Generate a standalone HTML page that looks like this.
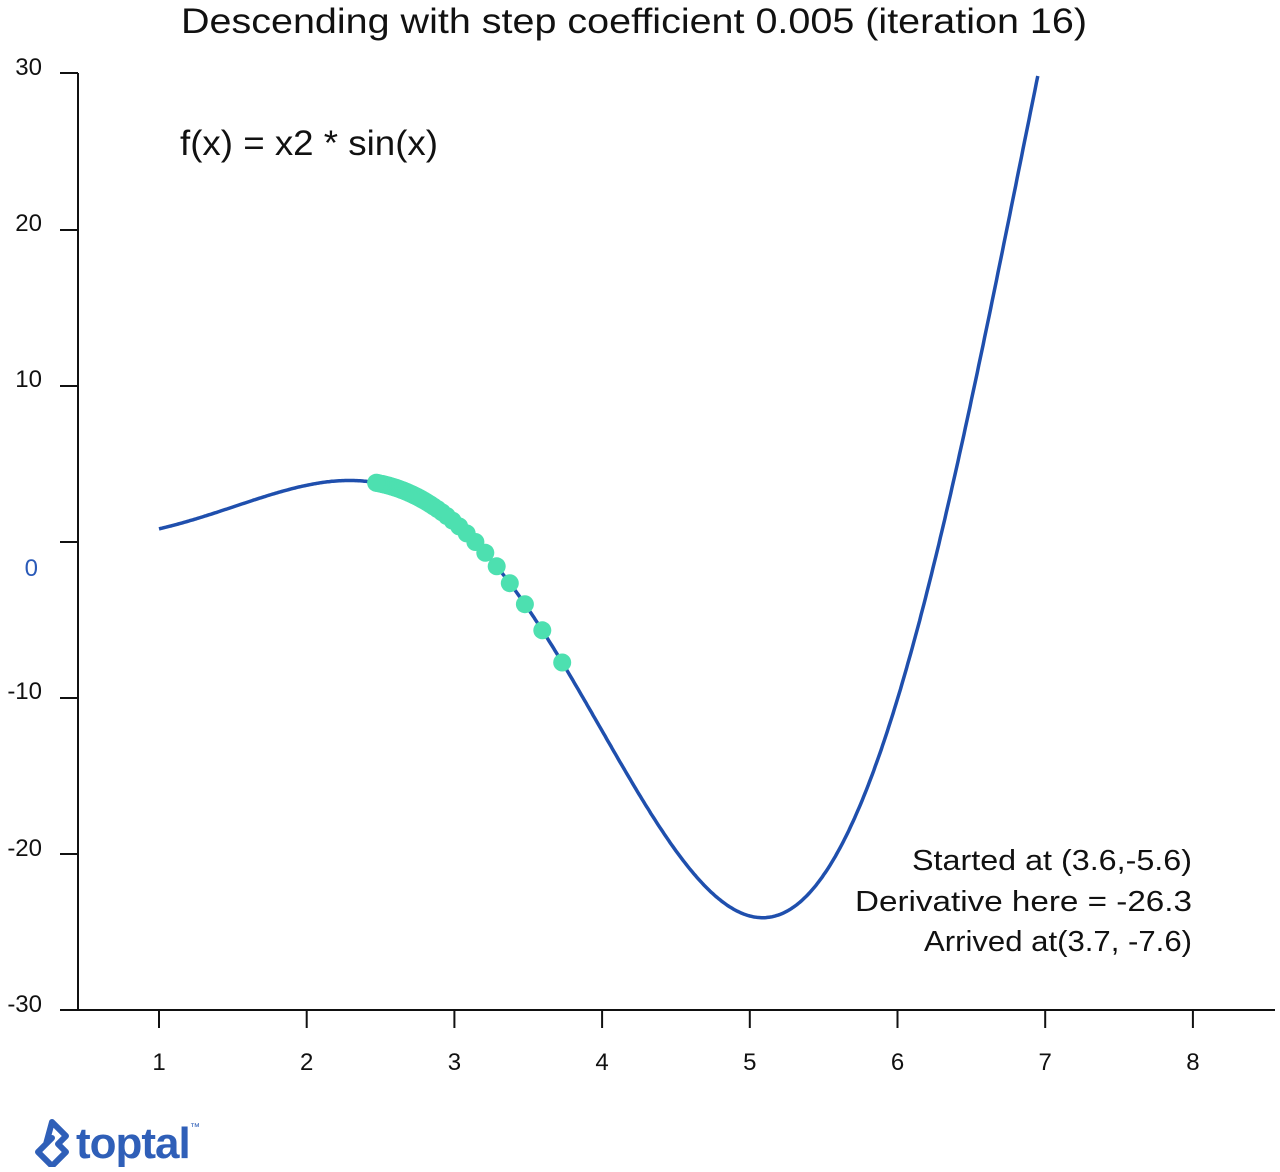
<!DOCTYPE html>
<html><head><meta charset="utf-8"><style>
html,body{margin:0;padding:0;background:#fff;}
svg text{font-family:"Liberation Sans",sans-serif;}
</style></head><body>
<svg id="s" width="1280" height="1167" xmlns="http://www.w3.org/2000/svg">
<rect width="1280" height="1167" fill="#fff"/>
<text x="181" y="33" font-size="35" textLength="906" lengthAdjust="spacingAndGlyphs" fill="#111">Descending with step coefficient 0.005 (iteration 16)</text>
<text x="180" y="155" font-size="35" textLength="258" lengthAdjust="spacingAndGlyphs" fill="#111">f(x) = x2 * sin(x)</text>
<g stroke="#111" stroke-width="2" fill="none">
<line x1="78" y1="73" x2="78" y2="1010"/>
<line x1="60" y1="1010" x2="1275" y2="1010"/>
<line x1="60" y1="73" x2="78" y2="73"/>
<line x1="60" y1="230" x2="78" y2="230"/>
<line x1="60" y1="386" x2="78" y2="386"/>
<line x1="60" y1="542" x2="78" y2="542"/>
<line x1="60" y1="698" x2="78" y2="698"/>
<line x1="60" y1="854" x2="78" y2="854"/>
<g id="xt"></g>
</g>
<g font-size="24" fill="#111" text-anchor="end">
<text x="42" y="75">30</text>
<text x="42" y="231">20</text>
<text x="42" y="387">10</text>
<text x="38" y="576" fill="#2a5ab8">0</text>
<text x="42" y="699">-10</text>
<text x="42" y="856">-20</text>
<text x="42" y="1012">-30</text>
</g>
<g id="xl" font-size="24" fill="#111" text-anchor="middle"></g>
<path id="curve" fill="none" stroke="#1f4fad" stroke-width="3.5"/>
<g id="dots" fill="#4de0b0"></g>
<g font-size="29" fill="#111" text-anchor="end">
<text x="1192" y="870" textLength="280" lengthAdjust="spacingAndGlyphs">Started at (3.6,-5.6)</text>
<text x="1192" y="911" textLength="337" lengthAdjust="spacingAndGlyphs">Derivative here = -26.3</text>
<text x="1192" y="951" textLength="268" lengthAdjust="spacingAndGlyphs">Arrived at(3.7, -7.6)</text>
</g>
<g fill="#2f5fb8">
<path d="M52 1122 L66 1136 L58 1144 L66 1152 L52 1166 L38 1152 L52 1138 L46 1144 Z" fill="none" stroke="#2f5fb8" stroke-width="6" stroke-linejoin="round"/>
<text x="76" y="1158" font-size="44" font-weight="bold" letter-spacing="-1">toptal</text>
<text x="190" y="1130" font-size="10">™</text>
</g>
</svg>
<script>
var X=function(x){return 159+(x-1)*147.7},Y=function(y){return 542-y*15.6};
var f=function(x){return x*x*Math.sin(x)};
var d="",xt="",xl="";
for(var x=1;x<=6.95;x+=0.01){var y=f(x);if(y>30.1)break;d+=(d?"L":"M")+X(x).toFixed(1)+" "+Y(y).toFixed(1);}
document.getElementById("curve").setAttribute("d",d);
for(var i=1;i<=8;i++){xt+='<line x1="'+X(i)+'" y1="1010" x2="'+X(i)+'" y2="1028"/>';xl+='<text x="'+X(i)+'" y="1070">'+i+'</text>';}
document.getElementById("xt").innerHTML=xt;document.getElementById("xl").innerHTML=xl;
var dd="",x=3.73,s=0.135;
while(x>2.47){dd+='<circle cx="'+X(x).toFixed(1)+'" cy="'+Y(f(x)).toFixed(1)+'" r="9"/>';x-=s;s*=0.87;if(s<0.012)s=0.012;}
dd+='<circle cx="'+X(2.47)+'" cy="'+Y(f(2.47))+'" r="9"/>';
document.getElementById("dots").innerHTML=dd;
</script>
</body></html>
